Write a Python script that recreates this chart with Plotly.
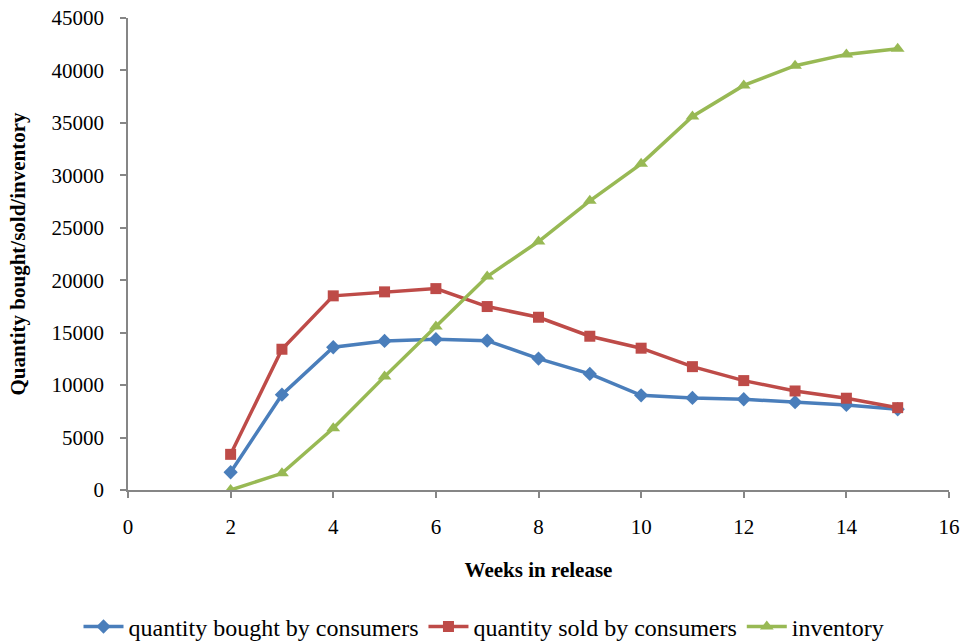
import plotly.graph_objects as go

# Weekly figures for a release
weeks = [2, 3, 4, 5, 6, 7, 8, 9, 10, 11, 12, 13, 14, 15]
bought = [1690, 9090, 13610, 14210, 14380, 14240, 12530, 11070, 9030, 8780, 8650, 8370, 8110, 7700]
sold = [3400, 13420, 18510, 18890, 19200, 17490, 16470, 14660, 13520, 11760, 10430, 9440, 8750, 7850]
inventory = [0, 1590, 5890, 10810, 15580, 20350, 23690, 27570, 31100, 35610, 38570, 40450, 41530, 42070]

series_names = ["quantity bought by consumers", "quantity sold by consumers", "inventory"]
x_ticks = [0, 2, 4, 6, 8, 10, 12, 14, 16]
y_ticks = [0, 5000, 10000, 15000, 20000, 25000, 30000, 35000, 40000, 45000]

FONT = "Liberation Serif"
AXIS_GREY = "#868686"

fig = go.Figure()
fig.add_trace(go.Scatter(
    x=weeks, y=bought, name=series_names[0], mode="lines+markers",
    line=dict(color="#4A7EBB", width=3.5),
    marker=dict(symbol="diamond", size=11, color="#4A7EBB"),
))
fig.add_trace(go.Scatter(
    x=weeks, y=sold, name=series_names[1], mode="lines+markers",
    line=dict(color="#BE4B48", width=3.5),
    marker=dict(symbol="square", size=11, color="#BE4B48"),
))
fig.add_trace(go.Scatter(
    x=weeks, y=inventory, name=series_names[2], mode="lines+markers",
    line=dict(color="#98B954", width=3.5),
    marker=dict(symbol="triangle-up", size=12, color="#98B954"),
))

fig.update_layout(
    width=968, height=643,
    margin=dict(l=128, r=19, t=18, b=153, autoexpand=False),
    paper_bgcolor="white", plot_bgcolor="white",
    font=dict(family=FONT, size=21, color="black"),
    showlegend=True,
    legend=dict(
        orientation="h", xref="container", yref="container",
        x=0.5, xanchor="center", y=0.025, yanchor="middle",
        font=dict(family=FONT, size=24), itemwidth=40,
        traceorder="normal",
    ),
    xaxis=dict(
        range=[0, 16], tickvals=x_ticks, ticktext=[str(v) for v in x_ticks],
        showgrid=False, zeroline=False, automargin=False,
        showline=True, linecolor=AXIS_GREY, linewidth=1.5,
        ticks="outside", ticklen=6, tickcolor=AXIS_GREY, tickwidth=1.5,
        ticklabelstandoff=11,
        title=dict(text="<b>Weeks in release</b>", font=dict(family=FONT, size=21), standoff=24),
    ),
    yaxis=dict(
        range=[0, 45000], tickvals=y_ticks, ticktext=[str(v) for v in y_ticks],
        showgrid=False, zeroline=False, automargin=False,
        showline=True, linecolor=AXIS_GREY, linewidth=1.5,
        ticks="outside", ticklen=6, tickcolor=AXIS_GREY, tickwidth=1.5,
        ticklabelstandoff=12,
        title=dict(text="<b>Quantity bought/sold/inventory</b>", font=dict(family=FONT, size=21), standoff=20),
    ),
)

fig.write_html("out.html")
